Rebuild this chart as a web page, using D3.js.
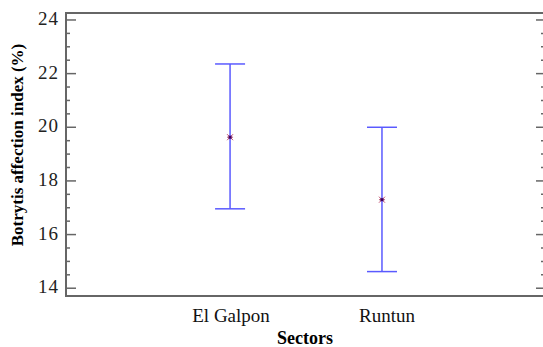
<!DOCTYPE html>
<html>
<head>
<meta charset="utf-8">
<script src="https://cdn.jsdelivr.net/npm/d3@7"></script>
<style>
  html, body { margin: 0; padding: 0; background: #fff; }
  svg { display: block; }
</style>
</head>
<body>
<div id="chart"></div>
<script>
const sectors = ['El Galpon', 'Runtun'];
const means = [19.63, 17.30];
const lower = [16.96, 14.62];
const upper = [22.36, 20.00];
const yTicks = [14, 16, 18, 20, 22, 24];

const FONT = 'Liberation Serif';
const w = 543, h = 347;
const m = { t: 13, r: 0, b: 51, l: 66 };

const svg = d3.select('#chart').append('svg')
  .attr('width', w).attr('height', h)
  .attr('font-family', FONT);

const x = d3.scaleLinear()
  .domain([-0.08, 3.06])
  .range([m.l, w - m.r]);

const y = d3.scaleLinear()
  .domain([13.71, 24.26])
  .range([h - m.b, m.t]);

const axisCol = '#666';

// frame
svg.append('rect')
  .attr('x', m.l).attr('y', m.t)
  .attr('width', w - m.r - m.l + 2).attr('height', h - m.b - m.t)
  .attr('fill', 'none').attr('stroke', axisCol).attr('stroke-width', 2);

// minor + major ticks, left and right
const minor = d3.range(14, 24.01, 0.5);
minor.forEach(v => {
  const major = v % 2 === 0;
  const len = major ? 10 : 4;
  svg.append('line')
    .attr('x1', m.l).attr('x2', m.l + len)
    .attr('y1', y(v)).attr('y2', y(v))
    .attr('stroke', axisCol).attr('stroke-width', 1.5);
  svg.append('line')
    .attr('x1', w - m.r).attr('x2', w - m.r - (major ? 7 : 2))
    .attr('y1', y(v)).attr('y2', y(v))
    .attr('stroke', axisCol).attr('stroke-width', 1.5);
});

svg.append('g').selectAll('text')
  .data(yTicks).join('text')
  .attr('x', m.l - 7).attr('y', d => y(d) + 5)
  .attr('text-anchor', 'end')
  .attr('font-family', FONT)
  .style('font-size', '19px').style('letter-spacing', '1px').attr('fill', '#222')
  .text(d => d);

// category labels
svg.append('g').selectAll('text')
  .data(sectors).join('text')
  .attr('x', (d, i) => x(i + 1) + (i === 1 ? 5 : 1))
  .attr('y', 322)
  .attr('text-anchor', 'middle')
  .attr('font-family', FONT)
  .style('font-size', '19px').attr('fill', '#111')
  .text(d => d);

svg.append('text')
  .attr('x', 305).attr('y', 344)
  .attr('text-anchor', 'middle')
  .attr('font-family', FONT)
  .style('font-size', '18px').style('font-weight', 'bold')
  .text('Sectors');

svg.append('text')
  .attr('transform', 'translate(23,145) rotate(-90)')
  .attr('text-anchor', 'middle')
  .attr('font-family', FONT)
  .style('font-size', '17px').style('font-weight', 'bold')
  .text('Botrytis affection index (%)');

// error bars
const barCol = '#5a5aff';
const cap = 15;
const g = svg.append('g');
sectors.forEach((s, i) => {
  const cx = x(i + 1);
  g.append('line')
    .attr('x1', cx).attr('x2', cx)
    .attr('y1', y(upper[i])).attr('y2', y(lower[i]))
    .attr('stroke', barCol).attr('stroke-width', 1.5);
  [upper[i], lower[i]].forEach(v => {
    g.append('line')
      .attr('x1', cx - cap).attr('x2', cx + cap)
      .attr('y1', y(v)).attr('y2', y(v))
      .attr('stroke', barCol).attr('stroke-width', 1.5);
  });
  // mean marker
  const my = y(means[i]);
  const r = 3;
  g.append('path')
    .attr('d', `M${cx - r},${my - r}L${cx + r},${my + r}M${cx - r},${my + r}L${cx + r},${my - r}M${cx - r},${my}L${cx + r},${my}`)
    .attr('stroke', '#c05070').attr('stroke-width', 1);
  g.append('rect')
    .attr('x', cx - 1.5).attr('y', my - 1.5)
    .attr('width', 3).attr('height', 3)
    .attr('fill', '#400060');
});
</script>
</body>
</html>
